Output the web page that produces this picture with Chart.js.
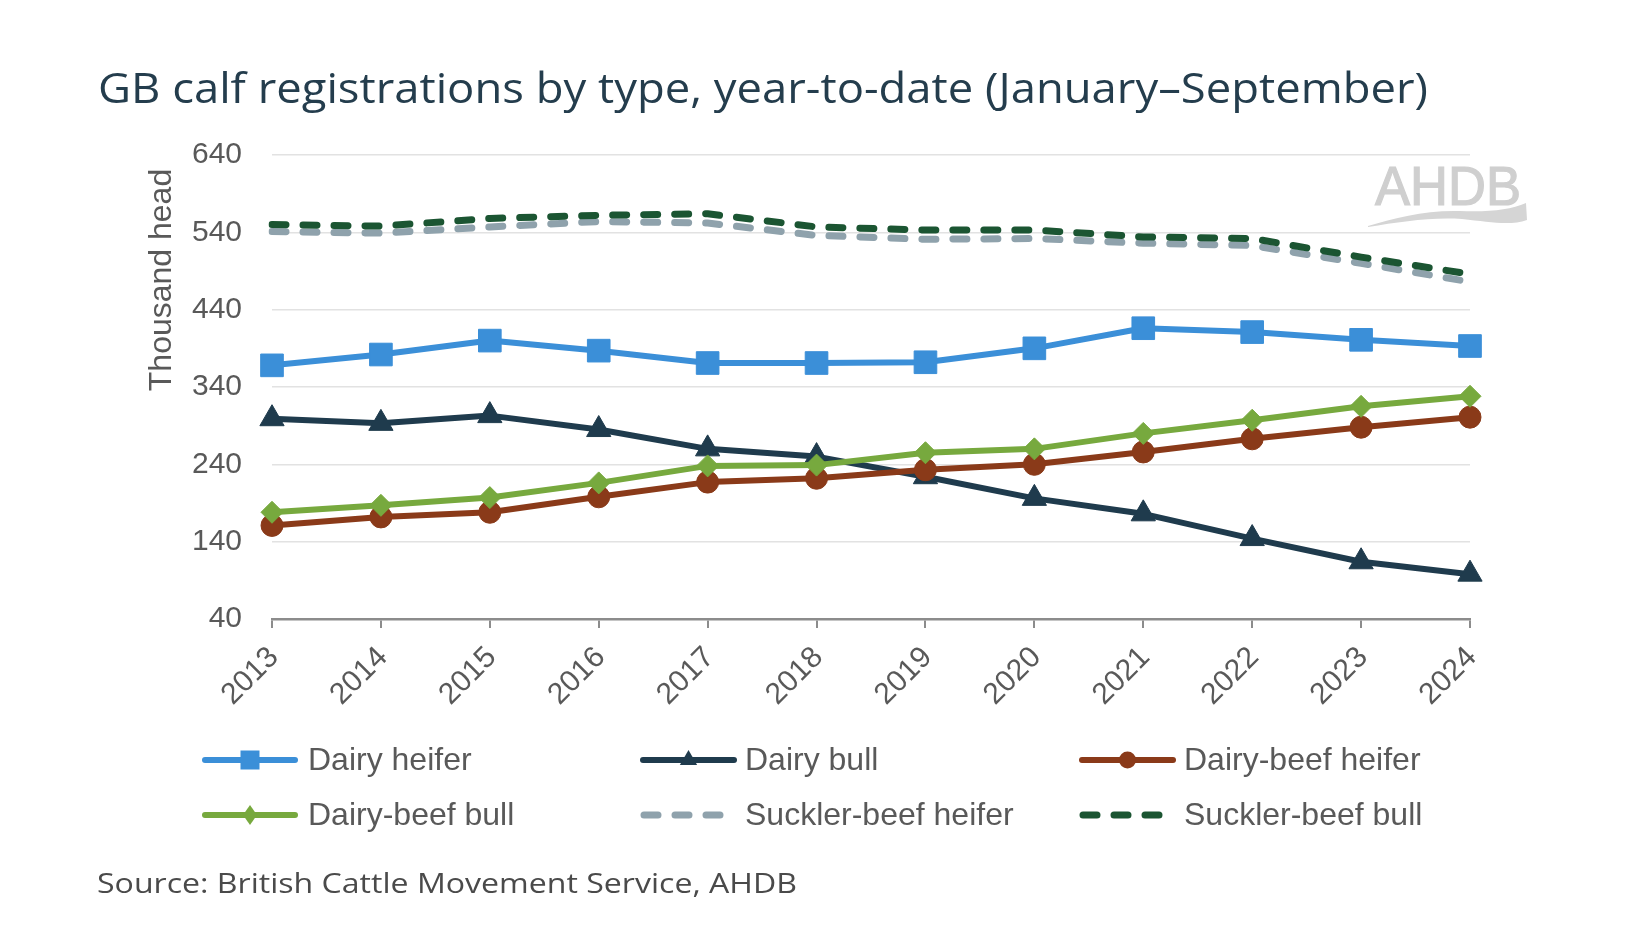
<!DOCTYPE html>
<html><head><meta charset="utf-8">
<script src="https://cdn.jsdelivr.net/npm/chart.js@4.4.1/dist/chart.umd.min.js"></script>
<style>html,body{margin:0;padding:0;background:#fff;}canvas{display:block;}</style>
</head><body>
<canvas id="c" width="1642" height="942"></canvas>
<script>
// ---- data ----
const years = ['2013','2014','2015','2016','2017','2018','2019','2020','2021','2022','2023','2024'];
const yTickValues = [40,140,240,340,440,540,640];
const seriesNames = ['Dairy heifer','Dairy bull','Dairy-beef heifer','Dairy-beef bull','Suckler-beef heifer','Suckler-beef bull'];
const dairyHeifer      = [368, 382, 400, 387, 371, 371, 372, 390, 416, 411, 401, 393];
const dairyBull        = [299, 293, 303, 285, 260, 250, 224, 196, 176, 144, 114, 98];
const dairyBeefHeifer  = [161, 172, 178, 198, 217, 222, 233, 240, 256, 273, 288, 301];
const dairyBeefBull    = [178, 187, 197, 216, 238, 239, 255, 260, 280, 297, 315, 328];
const sucklerBeefHeifer= [541, 539, 547, 554, 552, 536, 531, 532, 526, 523, 500, 476];
const sucklerBeefBull  = [550, 548, 558, 562, 564, 547, 543, 543, 534, 532, 508, 486];
const titleText = 'GB calf registrations by type, year-to-date (January\u2013September)';
const sourceText = 'Source: British Cattle Movement Service, AHDB';
const yAxisTitle = 'Thousand head';

// ---- styles ----
const C = {
  heifer:'#3b8fd8', bull:'#1f3b4d', dbHeifer:'#8a3a19', dbBull:'#77a93e',
  sbHeifer:'#8fa2ac', sbBull:'#1b5532'
};
const ARIAL = '"Liberation Sans", Arial, sans-serif';
const OPEN = '"Open Sans", "Noto Sans", sans-serif';

const styles = [
  {color:C.heifer,  marker:'rect',    r:16, lr:[9.5,9.5], dash:[], order:1, width:6},
  {color:C.bull,    marker:'triangle',r:14, lr:[10,10], dash:[], order:4, width:6},
  {color:C.dbHeifer,marker:'circle',  r:11, lr:[8.5,8.5], dash:[], order:3, width:6},
  {color:C.dbBull,  marker:'rectRot', r:11, lr:[7,10], dash:[], order:2, width:6},
  {color:C.sbHeifer,marker:null,      r:0,  dash:[14,17], order:6, width:7},
  {color:C.sbBull,  marker:null,      r:0,  dash:[14,17], order:5, width:7}
];
const values = [dairyHeifer, dairyBull, dairyBeefHeifer, dairyBeefBull, sucklerBeefHeifer, sucklerBeefBull];

const datasets = values.map((v,i)=>({
  label: seriesNames[i],
  data: v,
  borderColor: styles[i].color,
  backgroundColor: styles[i].color,
  borderWidth: styles[i].width,
  borderDash: styles[i].dash,
  borderCapStyle: styles[i].dash.length ? 'round' : 'butt',
  borderJoinStyle: 'round',
  pointStyle: styles[i].marker || 'circle',
  pointRadius: styles[i].r,
  pointBackgroundColor: styles[i].color,
  pointBorderColor: styles[i].color,
  pointBorderWidth: 1,
  tension: 0,
  fill: false,
  order: styles[i].order
}));

// legend layout (positions only)
const legendRows = [760, 815];
const legendCols = [{x0:202,x1:298,tx:308},{x0:640,x1:737,tx:745},{x0:1079,x1:1176,tx:1184}];

function marker(ctx, style, x, y, rw, rh, color){
  ctx.save(); ctx.fillStyle=color; ctx.beginPath();
  if(style==='rect'){ ctx.rect(x-rw,y-rh,2*rw,2*rh); }
  else if(style==='triangle'){ ctx.moveTo(x,y-rh); ctx.lineTo(x+rw*0.866,y+rh*0.5); ctx.lineTo(x-rw*0.866,y+rh*0.5); ctx.closePath(); }
  else if(style==='circle'){ ctx.arc(x,y,rw,0,Math.PI*2); }
  else if(style==='rectRot'){ ctx.moveTo(x,y-rh); ctx.lineTo(x+rw,y); ctx.lineTo(x,y+rh); ctx.lineTo(x-rw,y); ctx.closePath(); }
  ctx.fill(); ctx.restore();
}

function fitText(ctx, text, x, y, font, color, targetW){
  ctx.save(); ctx.font = font; ctx.fillStyle = color; ctx.textBaseline='alphabetic'; ctx.textAlign='left';
  const w = ctx.measureText(text).width;
  const s = targetW ? targetW / w : 1;
  ctx.translate(x, y); ctx.scale(s, 1); ctx.fillText(text, 0, 0); ctx.restore();
}

const deco = {
  id:'deco',
  beforeDatasetsDraw(chart){
    const ctx = chart.ctx;
    // AHDB logo
    ctx.save();
    ctx.fillStyle = '#cfcfcf';
    ctx.font = '56px ' + ARIAL;
    ctx.textBaseline = 'alphabetic';
    const w = ctx.measureText('AHDB').width;
    ctx.translate(1375, 205); ctx.scale(146 / w, 1);
    ctx.lineWidth = 1.2; ctx.strokeStyle = '#cfcfcf';
    ctx.fillText('AHDB', 0, 0); ctx.strokeText('AHDB', 0, 0);
    ctx.restore();
    ctx.save();
    ctx.fillStyle = '#d5d5d5';
    ctx.beginPath();
    ctx.moveTo(1368, 226);
    ctx.bezierCurveTo(1395, 218, 1425, 210, 1460, 211);
    ctx.bezierCurveTo(1490, 212, 1510, 210, 1526, 203);
    ctx.lineTo(1527, 220);
    ctx.bezierCurveTo(1510, 226, 1490, 222, 1462, 219);
    ctx.bezierCurveTo(1430, 217, 1400, 222, 1368, 227);
    ctx.closePath(); ctx.fill();
    ctx.restore();
  },
  afterDraw(chart){
    const ctx = chart.ctx;
    fitText(ctx, titleText, 98, 103, '500 42px ' + OPEN, '#243d4d', 1330);
    fitText(ctx, sourceText, 97, 893, '28px ' + OPEN, '#4a4a4a', 700);
    // y axis title
    ctx.save();
    ctx.translate(162, 280); ctx.rotate(-Math.PI/2);
    ctx.font = '32px ' + ARIAL; ctx.fillStyle = '#595959';
    ctx.textAlign='center'; ctx.textBaseline='middle';
    ctx.fillText(yAxisTitle, 0, 0);
    ctx.restore();
    // legend
    seriesNames.forEach((name,i)=>{
      const row = legendRows[Math.floor(i/3)], col = legendCols[i%3], st = styles[i];
      ctx.save();
      ctx.strokeStyle = st.color; ctx.lineWidth = st.width;
      ctx.setLineDash(st.dash); ctx.lineCap = 'round';
      ctx.beginPath();
      if(st.dash.length){ ctx.moveTo(col.x0+4,row); ctx.lineTo(col.x1-4,row); }
      else { ctx.moveTo(col.x0+3,row); ctx.lineTo(col.x1-3,row); }
      ctx.stroke(); ctx.restore();
      if(st.marker) marker(ctx, st.marker, (col.x0+col.x1)/2, row, st.lr[0], st.lr[1], st.color);
      ctx.save();
      ctx.font = '32px ' + ARIAL; ctx.fillStyle = '#595959';
      ctx.textAlign='left'; ctx.textBaseline='middle';
      ctx.fillText(name, col.tx, row+1);
      ctx.restore();
    });
  }
};

Chart.defaults.font.family = ARIAL;
new Chart(document.getElementById('c'), {
  type:'line',
  data:{ labels: years, datasets },
  options:{
    responsive:false, animation:false, devicePixelRatio:1,
    events:[],
    layout:{ padding:{ left:143, top:155, right:172, bottom:203 } },
    plugins:{ legend:{display:false}, tooltip:{enabled:false}, title:{display:false} },
    scales:{
      x:{
        type:'category', offset:false,
        grid:{ drawOnChartArea:false, drawTicks:true, tickLength:9, color:'#8c8c8c', lineWidth:2 },
        border:{ display:true, color:'#8c8c8c', width:2.5 },
        ticks:{ autoSkip:false, maxRotation:45, minRotation:45, color:'#595959', font:{size:30, family:ARIAL}, padding:12, labelOffset:2 },
        afterFit(s){ s.height = 120; }
      },
      y:{
        min:40, max:640,
        afterBuildTicks(s){ s.ticks = yTickValues.map(v=>({value:v})); },
        grid:{ color:'#e2e2e2', lineWidth:1.5, drawTicks:false },
        border:{ display:false },
        ticks:{ color:'#595959', font:{size:30, family:ARIAL}, padding:30 },
        afterFit(s){ s.width = 129; }
      }
    }
  },
  plugins:[deco]
});
</script>
</body></html>
